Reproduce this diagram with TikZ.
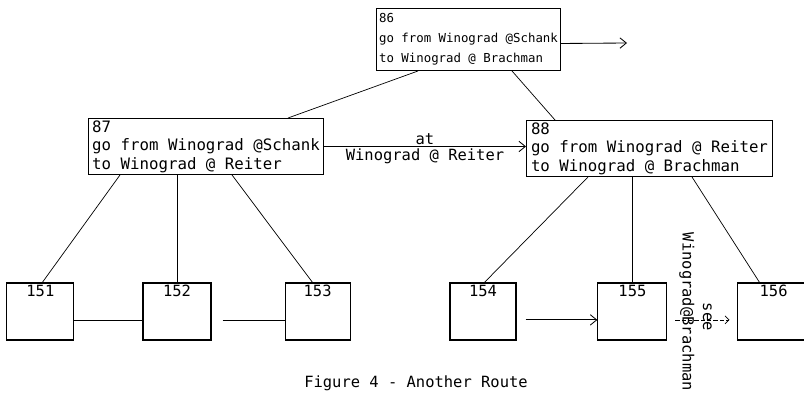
\documentclass[tikz,border=0pt]{standalone}
\usepackage{fontspec}
\setmonofont{DejaVu Sans Mono}
\usetikzlibrary{positioning, arrows.meta}

\begin{document}
\begin{tikzpicture}[
    every node/.style={font=\ttfamily},
    frame/.style={
        rectangle, draw, line width=0.7pt,
        align=left, anchor=north west,
        inner xsep=0.05cm, inner ysep=0pt,
        font={\ttfamily\fontsize{11.2}{13.1}\selectfont}
    },
    leaf/.style={
        rectangle, draw, line width=0.8pt,
        minimum height=1.425cm,
        label={[anchor=north, inner sep=1.5pt,
                font={\ttfamily\fontsize{11}{13}\selectfont}]north:#1}
    },
    link/.style={line width=0.5pt},
    arrow/.style={-{Straight Barb[length=1.6mm,width=2.6mm]}, line width=0.6pt},
    dashedarrow/.style={-{Straight Barb[length=1mm,width=2mm]}, line width=0.5pt,
        dash pattern=on 3pt off 1.5pt},
    tag/.style={font={\ttfamily\fontsize{11}{13}\selectfont}, inner sep=1pt}
]
\useasboundingbox (0,0) rectangle (20.1,-9.825);

% --- Top frame ---
\node[frame, minimum width=4.6cm, minimum height=1.55cm,
      font={\ttfamily\fontsize{8.8}{14.2}\selectfont}] (n86) at (9.4,-0.2)
      {86\\go from Winograd @Schank\\to Winograd @ Brachman};
\coordinate (out86) at (15.675,-1.075);

% --- Second level ---
\node[frame, minimum width=5.875cm, minimum height=1.4cm] (n87) at (2.2,-2.95)
      {87\\go from Winograd @Schank\\to Winograd @ Reiter};
\node[frame, minimum width=6.15cm, minimum height=1.4cm] (n88) at (13.15,-3.0)
      {88\\go from Winograd @ Reiter\\to Winograd @ Brachman};

% --- Leaves ---
\node[leaf=151, minimum width=1.675cm] (n151) at (1.01,-7.7875) {};
\node[leaf=152, minimum width=1.7cm] (n152) at (4.425,-7.7875) {};
\node[leaf=153, minimum width=1.625cm] (n153) at (7.94,-7.7875) {};
\node[leaf=154, minimum width=1.65cm] (n154) at (12.075,-7.7875) {};
\node[leaf=155, minimum width=1.725cm] (n155) at (15.81,-7.7875) {};
\node[leaf=156, minimum width=1.825cm] (n156) at (19.34,-7.7875) {};

% --- Caption ---
\node[anchor=base, font={\ttfamily\fontsize{11}{13}\selectfont}] (caption) at (10.4,-9.68)
      {Figure 4 - Another Route};

% --- Tree lines ---
\draw[link] ([xshift=1.05cm]n86.south west) -- ([xshift=5.0cm]n87.north west);
\draw[link] ([xshift=3.4cm]n86.south west) -- ([xshift=0.725cm]n88.north west);
\draw[link] ([xshift=0.8cm]n87.south west) -- ([xshift=0.9cm]n151.north west);
\draw[link] (n152.north |- n87.south) -- (n152.north);
\draw[link] ([xshift=3.6cm]n87.south west) -- ([xshift=0.7cm]n153.north west);
\draw[link] ([xshift=1.55cm]n88.south west) -- ([xshift=0.875cm]n154.north west);
\draw[link] (n155.north |- n88.south) -- (n155.north);
\draw[link] ([xshift=4.15cm]n88.south west) -- ([xshift=0.575cm]n156.north west);

% --- Arrows ---
\draw[arrow] ([yshift=-0.1cm]n86.east) -- (out86);
\draw[arrow] (n87.east) -- (n87.east -| n88.west)
    node[midway, above, tag] {at}
    node[midway, below, tag] {Winograd @ Reiter};
\draw[link] ([yshift=-0.21cm]n151.east) -- ([yshift=-0.21cm]n152.west);
\draw[link] ([xshift=0.275cm, yshift=-0.21cm]n152.east) -- ([yshift=-0.21cm]n153.west);
\draw[arrow] ([xshift=0.225cm, yshift=-0.21cm]n154.east) -- ([yshift=-0.21cm]n155.west);
\draw[dashedarrow] ([xshift=0.2cm, yshift=-0.21cm]n155.east) -- ([xshift=-0.175cm, yshift=-0.21cm]n156.west)
    node[pos=0.5, rotate=-90, tag, xshift=-0.075cm, yshift=0.12cm] {see}
    node[pos=0.5, rotate=-90, tag, xshift=-0.2cm, yshift=-0.39cm] {Winograd@Brachman};

\end{tikzpicture}
\end{document}
